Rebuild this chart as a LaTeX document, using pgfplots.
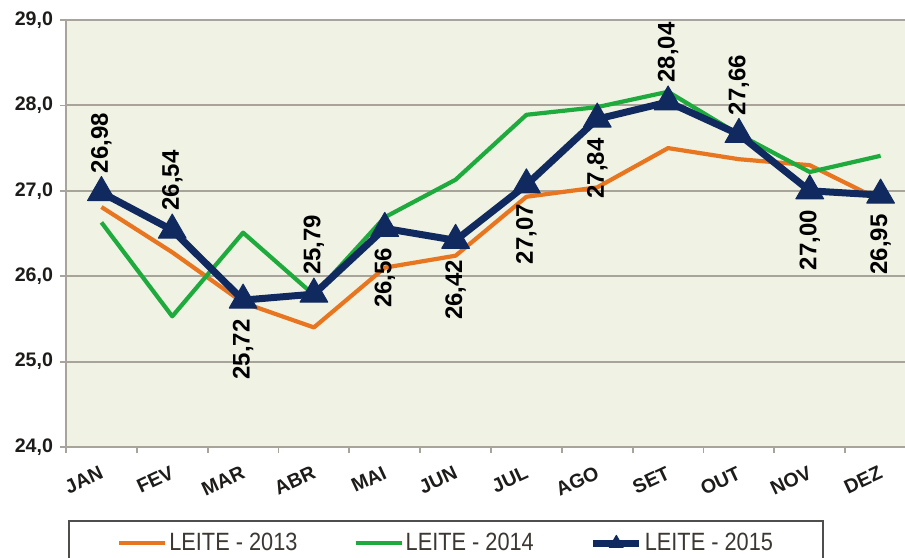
\documentclass[border=0pt]{standalone}
\usepackage{fontspec}
\setmainfont{Liberation Sans}
\newfontfamily\narrowfont[FakeStretch=0.87]{Liberation Sans}
\usepackage{pgfplots}
\usepackage{pgfplotstable}
\pgfplotsset{compat=1.18}
\definecolor{c13}{RGB}{232,118,32}
\definecolor{c14}{RGB}{30,170,60}
\definecolor{c15}{RGB}{16,42,96}
\definecolor{bgc}{RGB}{240,243,227}
\definecolor{gridc}{RGB}{168,164,156}
\definecolor{txt}{RGB}{30,28,26}
\definecolor{legtxt}{RGB}{60,55,50}
\definecolor{legbord}{RGB}{80,78,76}

\pgfplotstableread{
x y13 y14 y15
0 26.81 26.63 26.98
1 26.28 25.53 26.54
2 25.69 26.51 25.72
3 25.40 25.78 25.79
4 26.10 26.69 26.56
5 26.24 27.13 26.42
6 26.93 27.89 27.07
7 27.04 27.98 27.84
8 27.50 28.16 28.04
9 27.37 27.66 27.66
10 27.30 27.22 27.00
11 26.89 27.41 26.95
}\datatab

\pgfplotstableread{
x y lbl
0 26.98 26,98
1 26.54 26,54
3 25.79 25,79
8 28.04 28,04
9 27.66 27,66
}\abovetab

\pgfplotstableread{
x y lbl
2 25.72 25,72
4 26.56 26,56
5 26.42 26,42
6 27.07 27,07
7 27.84 27,84
10 27.00 27,00
11 26.95 26,95
}\belowtab

\begin{document}
\begin{tikzpicture}
\useasboundingbox (0,0) rectangle (452.5pt,278.5pt);
\clip (0,0) rectangle (452.5pt,278.5pt);
\begin{axis}[
  at={(33pt,55pt)}, anchor=south west,
  width=425pt, height=213.5pt, scale only axis,
  xmin=-0.5, xmax=11.5, ymin=24, ymax=29,
  ytick={24,25,...,29},
  xtick={-0.5,0.5,...,10.5},
  xticklabels={JAN,FEV,MAR,ABR,MAI,JUN,JUL,AGO,SET,OUT,NOV,DEZ},
  xtick pos=bottom, ytick pos=left,
  tick align=outside, major tick length=3pt,
  tick style={gridc, line width=0.9pt},
  ymajorgrids, grid style={gridc, line width=1pt},
  axis line style={gridc, line width=1pt},
  axis background/.style={fill=bgc},
  /pgf/number format/.cd, fixed, fixed zerofill, precision=1, use comma, assume math mode=true,
  /pgfplots/.cd,
  yticklabel style={font=\bfseries\fontsize{9.8}{10}\selectfont, text=txt},
  xticklabel style={font=\bfseries\fontsize{9.8}{10}\selectfont, text=txt, anchor=north east, xshift=18.1pt, yshift=-1.6pt, rotate=25},
  legend columns=3,
  legend style={at={(axis description cs:0.0024,-0.171)}, anchor=north west,
    draw=legbord, line width=1.1pt, fill=white,
    font=\narrowfont\fontsize{12.5}{14}\selectfont, text=legtxt,
    inner xsep=24pt, inner ysep=4pt,
    nodes={inner xsep=1pt},
    /tikz/every even column/.append style={column sep=27pt}},
  legend image code/.code={\draw[mark repeat=2,mark phase=2,#1] plot coordinates {(0pt,0pt) (11.5pt,0pt) (23pt,0pt)};},
  legend image post style={mark size=4pt},
]
\addplot[c13, line width=2.1pt, line join=round, mark=none] table[x=x, y=y13]{\datatab};
\addlegendentry{LEITE - 2013}
\addplot[c14, line width=2.1pt, line join=round, mark=none] table[x=x, y=y14]{\datatab};
\addlegendentry{LEITE - 2014}
\addplot[c15, line width=3.5pt, line join=round, mark=triangle*, mark size=8pt, mark options={solid, fill=c15, draw=c15, line width=0.5pt}] table[x=x, y=y15]{\datatab};
\addlegendentry{LEITE - 2015}
\addplot[draw=none, mark=none, forget plot, nodes near coords, point meta=explicit symbolic,
  nodes near coords style={rotate=90, anchor=west, inner xsep=9.5pt, inner ysep=0pt, font=\bfseries\fontsize{12}{12}\selectfont, text=black}]
  table[x=x, y=y, meta=lbl]{\abovetab};
\addplot[draw=none, mark=none, forget plot, nodes near coords, point meta=explicit symbolic,
  nodes near coords style={rotate=90, anchor=east, inner xsep=9.5pt, inner ysep=0pt, font=\bfseries\fontsize{12}{12}\selectfont, text=black}]
  table[x=x, y=y, meta=lbl]{\belowtab};
\end{axis}
\end{tikzpicture}
\end{document}
